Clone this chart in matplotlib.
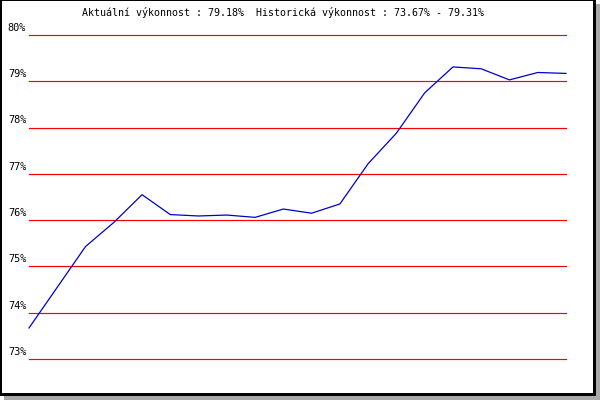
import numpy as np
import matplotlib.pyplot as plt
from matplotlib.patches import Rectangle

title = "Aktuální výkonnost : 79.18%  Historická výkonnost : 73.67% - 79.31%"
y_ticks = [73, 74, 75, 76, 77, 78, 79, 80]
tick_labels = ["73%", "74%", "75%", "76%", "77%", "78%", "79%", "80%"]
performance = [73.67, 74.55, 75.43, 75.95, 76.55, 76.12, 76.09, 76.11, 76.06, 76.24,
               76.15, 76.35, 77.22, 77.88, 78.75, 79.31, 79.27, 79.03, 79.19, 79.17]

if __name__ == "__main__":
    fig = plt.figure(figsize=(6, 4), dpi=100)
    fig.patch.set_facecolor("white")

    # frame with grey drop shadow, drawn in pixel coordinates
    bg = fig.add_axes([0, 0, 1, 1], zorder=0)
    bg.set_xlim(0, 600)
    bg.set_ylim(400, 0)
    bg.axis("off")
    bg.add_patch(Rectangle((4, 4), 596, 396, color="#a8a8a8", lw=0))
    bg.add_patch(Rectangle((0, 0), 596, 396, color="black", lw=0))
    bg.add_patch(Rectangle((2, 1), 591, 392, color="white", lw=0))

    ax = fig.add_axes([29 / 600, 41 / 400, 537 / 600, 324 / 400], zorder=1)
    ax.patch.set_alpha(0)
    x = np.arange(len(performance))
    ax.set_xlim(0, len(performance) - 1)
    ax.set_ylim(y_ticks[0], y_ticks[-1])
    for v in y_ticks:
        ax.axhline(v, color="#ff0000", lw=0.85, zorder=1, clip_on=False)
    ax.plot(x, performance, color="#0000cc", lw=0.9, zorder=2, clip_on=False)
    for v, lab in zip(y_ticks, tick_labels):
        ax.annotate(lab, xy=(0, v), xycoords=ax.get_yaxis_transform(),
                    xytext=(-2, 1.5), textcoords="offset points",
                    ha="right", va="bottom", fontsize=7.4,
                    family="DejaVu Sans Mono", annotation_clip=False)
    ax.axis("off")

    fig.text(82 / 600, 1 - 13 / 400, title, ha="left", va="center",
             fontsize=7.2, family="DejaVu Sans Mono")

    fig.savefig("out.png", dpi=100)
